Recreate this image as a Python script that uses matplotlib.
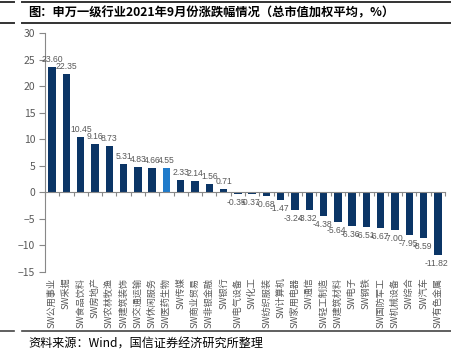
import matplotlib
matplotlib.use("Agg")
import matplotlib.pyplot as plt
from matplotlib.lines import Line2D

plt.rcParams["font.family"] = ["Noto Sans CJK SC", "DejaVu Sans"]

industries = [
    "SW公用事业", "SW采掘", "SW食品饮料", "SW房地产", "SW农林牧渔", "SW建筑装饰",
    "SW交通运输", "SW休闲服务", "SW医药生物", "SW传媒", "SW商业贸易", "SW非银金融",
    "SW银行", "SW电气设备", "SW化工", "SW纺织服装", "SW计算机", "SW家用电器",
    "SW通信", "SW轻工制造", "SW建筑材料", "SW电子", "SW钢铁", "SW国防军工",
    "SW机械设备", "SW综合", "SW汽车", "SW有色金属",
]
changes = [
    23.60, 22.35, 10.45, 9.16, 8.73, 5.31, 4.83, 4.66, 4.55, 2.33, 2.14, 1.56,
    0.71, -0.35, -0.37, -0.68, -1.47, -3.24, -3.32, -4.38, -5.64, -6.36, -6.51,
    -6.67, -7.00, -7.95, -8.59, -11.82,
]
highlight = "SW医药生物"

NAVY = "#0b3566"
LIGHT = "#1f7bcb"
GREY = "#595959"

W, H = 452, 355
fig = plt.figure(figsize=(W / 100, H / 100), dpi=100)
fig.patch.set_facecolor("white")

# title band
for yy in (2, 23):
    fig.add_artist(Line2D([22 / W, 1], [1 - yy / H, 1 - yy / H], color="#333333", lw=1.4))
    fig.add_artist(Line2D([0, 14 / W], [1 - yy / H, 1 - yy / H], color="#333333", lw=1.4))
fig.text(28 / W, 1 - 12.5 / H, "图：申万一级行业2021年9月份涨跌幅情况（总市值加权平均，%）",
         fontsize=8.8, fontweight="bold", ha="left", va="center", color="black")

# source band
fig.add_artist(Line2D([22 / W, 1], [1 - 331 / H, 1 - 331 / H], color="#444444", lw=1.2))
fig.add_artist(Line2D([0, 14 / W], [1 - 331 / H, 1 - 331 / H], color="#444444", lw=1.2))
fig.text(28 / W, 1 - 344 / H, "资料来源：Wind，国信证券经济研究所整理",
         fontsize=8.7, ha="left", va="center", color="black")

ax = fig.add_axes([45 / W, 1 - 272 / H, 400 / W, 239 / H])
x = list(range(len(industries)))
colors = [LIGHT if n == highlight else NAVY for n in industries]
ax.bar(x, changes, width=0.52, color=colors, zorder=2)

ax.set_xlim(-0.5, len(industries) - 0.5)
ax.set_ylim(-15, 30)
ax.set_yticks([-15, -10, -5, 0, 5, 10, 15, 20, 25, 30])
ax.tick_params(axis="y", direction="out", length=4, width=0.8, color="#888888",
               labelcolor=GREY, labelsize=7.5, pad=3)

for s in ["top", "right"]:
    ax.spines[s].set_visible(False)
ax.spines["left"].set_color("#888888")
ax.spines["bottom"].set_color("#888888")
ax.spines["bottom"].set_position(("data", 0))

ax.set_xticks(x)
ax.set_xticklabels([])
ax.tick_params(axis="x", which="major", length=0)
ax.set_xticks([i - 0.5 for i in range(len(industries) + 1)], minor=True)
ax.tick_params(axis="x", which="minor", direction="out", length=3, width=0.8, color="#888888")

for xi, name in zip(x, industries):
    ax.annotate(name, (xi, -15), xytext=(0, -4), textcoords="offset points",
                rotation=90, ha="center", va="top", fontsize=6.6, color=GREY)

for xi, v in zip(x, changes):
    if v >= 0:
        ax.annotate(f"{v:.2f}", (xi, v), xytext=(0, 2), textcoords="offset points",
                    ha="center", va="bottom", fontsize=6.2, color=GREY, family="Liberation Sans")
    else:
        ax.annotate(f"{v:.2f}", (xi, v), xytext=(-1, -3), textcoords="offset points",
                    ha="center", va="top", fontsize=6.2, color=GREY, family="Liberation Sans")

fig.savefig("out.png", dpi=100, facecolor="white")
